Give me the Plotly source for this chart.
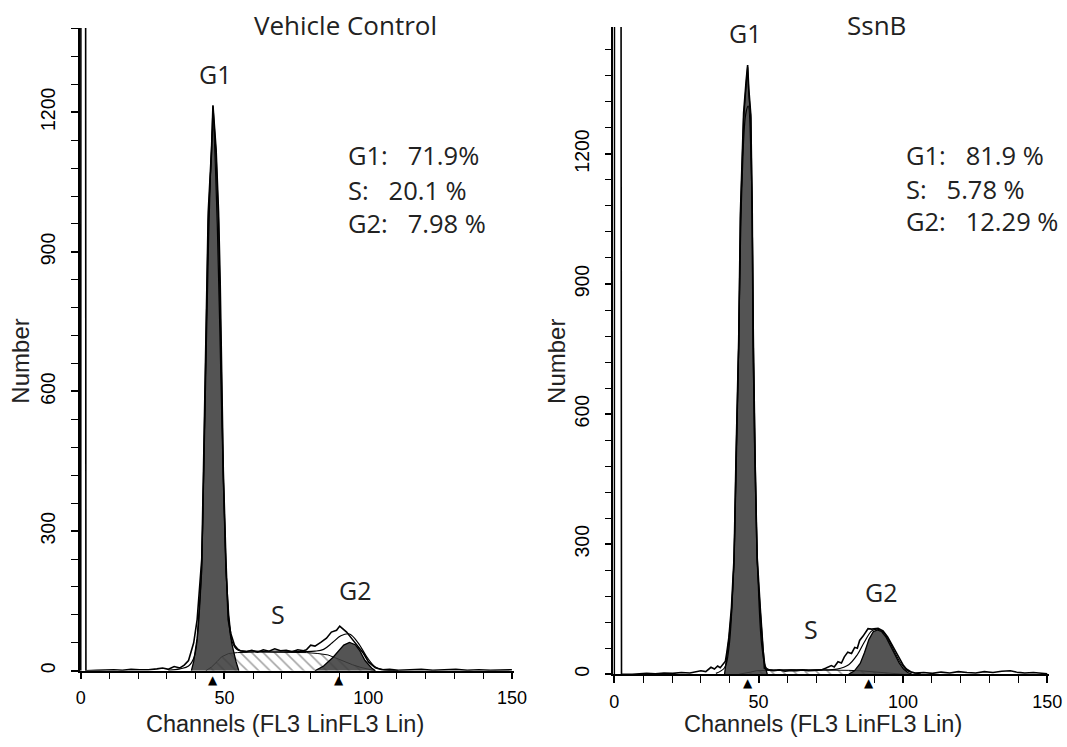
import plotly.graph_objects as go

# ---------------- data ----------------
# Left panel: Vehicle Control
vc_data_ch = [0, 0.1, 1.6, 1.8, 5.5, 8.5, 11.5, 14.5, 17.5, 20.5, 23.5, 26.5, 28.5, 30.5, 32.5, 34.5, 36,
              37.5, 38.5, 39.3, 40.5, 41.5, 42.1, 42.7, 43.95, 44.35, 45.5, 46, 47.1, 47.95, 48.5, 49.6,
              50.5, 51.3, 52.2, 53.5, 54.5, 55.5, 57.5, 59.5, 61.5, 63.5, 65.5, 67.5, 69.5, 71.5, 73.5,
              75.5, 77.5, 78.5, 80, 81.5, 83.5, 85.5, 87.2, 89, 90.1, 91.3, 92.5, 94.3, 96.6, 98.4, 100.1,
              102.5, 104.8, 107.5, 110.5, 114.5, 118.5, 122.5, 126.5, 130.5, 134.5, 138.5, 142.5, 146.5, 150]
vc_data_v = [0, 3000, 3000, 0, 1, 2, 2, 1, 3, 2, 2, 4, 6, 3, 9, 6, 12, 22, 45, 60, 110, 190,
             240, 430, 840, 985, 1120, 1215, 1120, 985, 840, 430, 240, 110, 80, 55, 47, 43, 41, 44,
             40, 45, 42, 47, 43, 44, 41, 45, 43, 45, 55, 53, 61, 70, 83, 87, 96, 89, 83, 69,
             51, 37, 19, 6.5, 2, 3, 1, 2, 3, 1, 2, 3, 1, 2, 1, 2, 2]
vc_fit_ch = [30.5, 34.5, 37.5, 39.5, 41.5, 43, 44.5, 46, 47.5, 49, 50.5, 51.5, 52.5, 54.5, 60.5, 70.5,
             78.5, 81.5, 84.5, 87.5, 90.5, 93.5, 96.5, 99.5, 102.5, 105.5, 110.5]
vc_fit_v = [1, 4, 10, 30, 150, 480, 930, 1175, 960, 560, 230, 110, 65, 45, 42, 42, 41, 42, 46, 60, 75, 79,
            60, 30, 8, 2, 0]
vc_s_ch = [43.5, 45.5, 47.5, 49, 51.5, 54.5, 60.5, 70.5, 78.5, 82.5, 86, 88.5, 91.5, 94.5, 97.5, 100.5, 102.5]
vc_s_v = [0, 8, 20, 30, 37, 39, 40, 40, 39, 37, 34, 28, 20, 13, 7, 3, 0]
vc_g1_ch = [38.5, 39.3, 40.5, 41.5, 42.1, 42.7, 43.3, 43.95, 44.35, 45, 45.5, 46, 46.5, 47.1, 47.95, 48.5,
            49, 49.6, 50.5, 51.5, 52.5, 54, 55]
vc_g1_v = [0, 20, 70, 150, 216, 410, 620, 820, 965, 1050, 1108, 1213, 1160, 1108, 965, 820, 620,
           410, 216, 120, 60, 20, 0]
vc_g2_ch = [81.5, 84.5, 87.8, 89.5, 91.5, 93.5, 95.5, 97, 98.9, 101.2, 102.5]
vc_g2_v = [0, 10, 29, 42, 55, 61, 56, 44, 22, 6, 0]
vc_markers = [46, 90]
vc_stats = ["G1:\u00a0\u00a0 71.9%", "S:\u00a0\u00a0 20.1 %", "G2:\u00a0\u00a0 7.98 %"]

# Right panel: SsnB
sb_data_ch = [0, 0.1, 2.2, 2.5, 6.2, 8.5, 11.2, 14.2, 17.2, 20.2, 23.2, 26.2, 28.2, 30, 31.7, 33.5, 34.7,
              35.8, 36.7, 37.5, 38.5, 39, 39.7, 40.6, 41.5, 42.2, 43.1, 43.7, 44.8, 45.7, 46.2, 46.6, 47.3,
              47.8, 48.1, 48.7, 49.5, 50.6, 51.5, 52, 53.2, 55.2, 57.2, 59.2, 61.2, 63.2, 65.2, 67.2, 69.2,
              71.7, 73.2, 75.2, 76.2, 77.5, 78.7, 79.7, 80.9, 82.2, 83.3, 84.2, 85, 86.2, 87.9, 89.2, 91.4,
              93.1, 94.7, 96, 97.4, 98.9, 100.2, 101.2, 102.7, 104.2, 107.2, 110.2, 113.2, 116.2, 119.2,
              122.2, 125.2, 128.2, 131.2, 134.2, 137.2, 139.2, 142.2, 145.2, 148.2, 150]
sb_data_v = [0, 3000, 3000, 0, 0, 1, 2, 1, 3, 2, 4, 3, 5, 8, 6, 16, 12, 19, 15,
             23, 30, 51, 85, 155, 270, 510, 770, 1065, 1295, 1370, 1405, 1350, 1290, 1060, 770,
             510, 270, 150, 60, 14, 10, 8, 10, 7, 9, 8, 10, 8, 9, 10, 14, 20, 17, 29,
             26, 40, 51, 48, 62, 60, 78, 88, 105, 104, 106, 100, 86, 70, 52, 35, 20,
             12, 6, 3, 4, 2, 5, 3, 6, 4, 3, 6, 4, 7, 8, 5, 3, 4, 2, 1]
sb_fit_ch = [35.2, 38.2, 39.7, 41.2, 42.7, 44.2, 45.5, 46.4, 47.4, 48.4, 49.7, 51.2, 52.7, 54.2, 61.2, 71.2,
             77.2, 81.2, 84.2, 86.7, 89.2, 91.2, 93.2, 95.2, 97.2, 99.2, 101.2, 103.2, 106.2]
sb_fit_v = [2, 15, 60, 220, 620, 1120, 1290, 1310, 1180, 700, 240, 60, 14, 10, 10, 10, 12, 22, 45,
            75, 100, 104, 97, 77, 50, 26, 10, 4, 1]
sb_s_ch = [43.2, 45.2, 47.2, 49.2, 51.2, 56.2, 66.2, 76.2, 81.2, 85.2, 89.2, 93.2, 97.2, 100.2]
sb_s_v = [0, 2, 5, 8, 9, 10, 10, 10, 9, 8, 6, 4, 2, 0]
sb_g1_ch = [38.2, 38.8, 39.7, 40.6, 41.5, 42.2, 43.1, 43.7, 44.8, 45.7, 46.2, 46.6, 47.3, 47.8, 48.1, 48.7,
            49.5, 50.6, 51.5, 52.2, 53]
sb_g1_v = [0, 28, 80, 143, 258, 500, 758, 1051, 1282, 1360, 1400, 1340, 1282, 1051, 758, 500,
           258, 143, 60, 20, 0]
sb_g2_ch = [81.2, 83.2, 85.2, 86.7, 88.2, 89.7, 91.2, 92.7, 94.2, 95.7, 97.2, 98.7, 100.2, 101.7, 103.2]
sb_g2_v = [0, 8, 25, 50, 80, 98, 102, 98, 85, 65, 44, 26, 12, 4, 0]
sb_markers = [46.2, 88.4]
sb_stats = ["G1:\u00a0\u00a0 81.9 %", "S:\u00a0\u00a0 5.78 %", "G2:\u00a0\u00a0 12.29 %"]

x_ticks = [0, 50, 100, 150]
y_ticks = [0, 300, 600, 900, 1200]

# ---------------- figure ----------------
W, H = 1067, 747
TXT = "Open Sans"
AX = "Liberation Sans, Arial, sans-serif"

# measured correction between page pixels and the captured picture
SX, CX, SY = 0.9836, 3.3, 0.9934


def fx(X):
    """picture x pixel -> paper fraction"""
    return ((X - CX) / SX) / W


def fy(Y):
    """picture y pixel -> paper fraction"""
    return 1 - (Y / SY) / H


fig = go.Figure()


def add_panel(xa, ya, data_ch, data_v, fit_ch, fit_v, s_ch, s_v, g1_ch, g1_v, g2_ch, g2_v):
    common = dict(xaxis=xa, yaxis=ya, mode="lines", hoverinfo="skip", showlegend=False)
    fig.add_trace(go.Scatter(x=s_ch, y=s_v, fill="tozeroy", line=dict(color="black", width=1),
                             fillcolor="white",
                             fillpattern=dict(shape="\\", fgcolor="#4a4a4a", bgcolor="white",
                                              size=8, solidity=0.2), **common))
    for cx, cy in ((g1_ch, g1_v), (g2_ch, g2_v)):
        fig.add_trace(go.Scatter(x=cx, y=cy, fill="tozeroy", fillcolor="rgba(60,60,60,0.88)",
                                 line=dict(color="black", width=1.3), **common))
    fig.add_trace(go.Scatter(x=fit_ch, y=fit_v, line=dict(color="black", width=1.2, shape="spline"),
                             **common))
    fig.add_trace(go.Scatter(x=data_ch, y=data_v, line=dict(color="black", width=1.6), **common))


add_panel("x", "y", vc_data_ch, vc_data_v, vc_fit_ch, vc_fit_v, vc_s_ch, vc_s_v,
          vc_g1_ch, vc_g1_v, vc_g2_ch, vc_g2_v)
add_panel("x2", "y2", sb_data_ch, sb_data_v, sb_fit_ch, sb_fit_v, sb_s_ch, sb_s_v,
          sb_g1_ch, sb_g1_v, sb_g2_ch, sb_g2_v)

axis_common = dict(showgrid=False, zeroline=False, showline=True, linecolor="black", linewidth=1.5,
                   ticks="outside", ticklen=7, tickwidth=1.5, tickcolor="black", fixedrange=True)
xfont = dict(family=AX, size=18, color="black")
yfont = dict(family=AX, size=19.5, color="black")

# reference geometry (picture pixels)
L_x0, L_px = 80, 2.873          # channel 0 position, pixels per channel
R_x0, R_px = 613.3, 2.885
L_y0, L_py = 669, 0.4642        # count 0 position, pixels per count
R_y0, R_py = 672.5, 0.4325
L_top, R_top = 28, 27
xr = (-0.3, 150.6)

minor_x = dict(dtick=10, tick0=0, ticks="outside", ticklen=7, tickwidth=1.2, tickcolor="black")
minor_y = dict(dtick=60, tick0=0, ticks="outside", ticklen=7, tickwidth=1.2, tickcolor="black")

fig.update_layout(
    width=W, height=H, margin=dict(l=0, r=0, t=0, b=0),
    paper_bgcolor="white", plot_bgcolor="white",
    xaxis=dict(domain=[fx(L_x0 + xr[0] * L_px), fx(L_x0 + xr[1] * L_px)], range=list(xr),
               tickvals=x_ticks, anchor="y", tickfont=xfont, ticklabelstandoff=3,
               minor=minor_x, **axis_common),
    yaxis=dict(domain=[fy(L_y0), fy(L_top)], range=[0, (L_y0 - L_top) / L_py],
               tickvals=y_ticks, tickangle=-90, anchor="x", tickfont=yfont, ticklabelstandoff=8,
               minor=minor_y, **axis_common),
    xaxis2=dict(domain=[fx(R_x0 + xr[0] * R_px), fx(R_x0 + xr[1] * R_px)], range=list(xr),
                tickvals=x_ticks, anchor="y2", tickfont=xfont, ticklabelstandoff=3,
                minor=minor_x, **axis_common),
    yaxis2=dict(domain=[fy(R_y0), fy(R_top)], range=[0, (R_y0 - R_top) / R_py],
                tickvals=y_ticks, tickangle=-90, anchor="x2", tickfont=yfont, ticklabelstandoff=8,
                minor=minor_y, **axis_common),
)

ann = []


def txt(X, Y, s, size, family=TXT, xanchor="center", angle=0):
    ann.append(dict(x=fx(X), y=fy(Y), xref="paper", yref="paper", text=s, showarrow=False,
                    xanchor=xanchor, yanchor="middle", textangle=angle,
                    font=dict(family=family, size=size, color="#222")))


# titles
txt(345, 25, "Vehicle Control", 26)
txt(875, 25, "SsnB", 26)
# phase labels
txt(214, 74, "G1", 25)
txt(277, 612, "S", 25)
txt(354, 588, "G2", 25)
txt(744, 33, "G1", 25)
txt(810, 627, "S", 25)
txt(880, 590, "G2", 25)
# statistics
for yy, s in zip([155, 190, 222], vc_stats):
    txt(345, yy, s, 25.5, xanchor="left")
for yy, s in zip([155, 188.5, 220], sb_stats):
    txt(903, yy, s, 25.5, xanchor="left")
# axis titles
txt(20, 360, "Number", 24, family=AX, angle=-90)
txt(556, 360, "Number", 24, family=AX, angle=-90)
txt(284, 722, "Channels (FL3 LinFL3 Lin)", 23.5, family=AX)
txt(822, 722, "Channels (FL3 LinFL3 Lin)", 23.5, family=AX)

# peak markers below the x axis
for xa, ya, marks in (("x", "y", vc_markers), ("x2", "y2", sb_markers)):
    for m in marks:
        ann.append(dict(x=m, y=0, xref=xa, yref=ya, text="\u25B2", showarrow=False,
                        yanchor="top", yshift=-1, borderpad=0,
                        font=dict(family="DejaVu Sans", size=12, color="black")))

fig.update_layout(annotations=ann)
fig.write_html("out.html", config={"displayModeBar": False},
               post_script="document.body.style.margin='0';document.body.style.overflow='hidden';")
